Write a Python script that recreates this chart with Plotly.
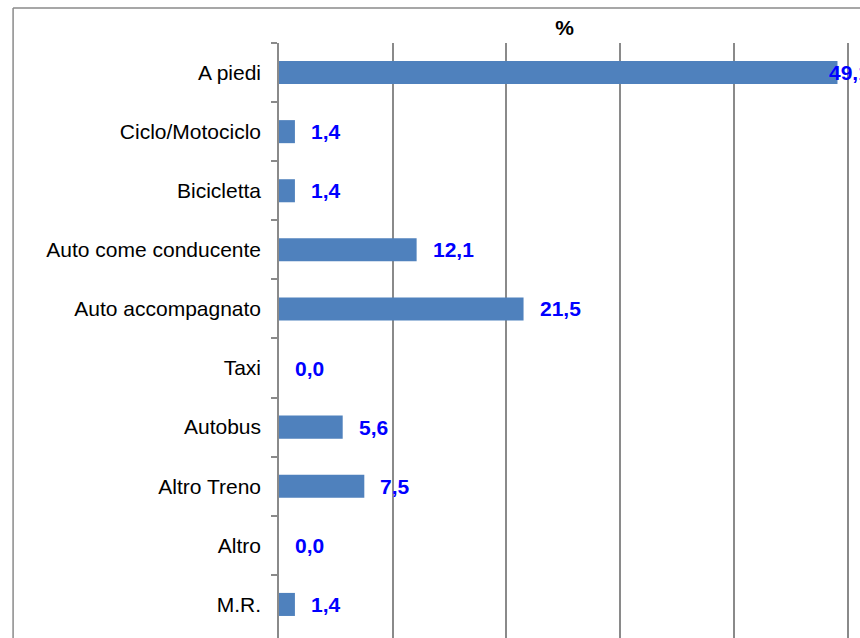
import plotly.graph_objects as go

categories = ["A piedi", "Ciclo/Motociclo", "Bicicletta", "Auto come conducente",
              "Auto accompagnato", "Taxi", "Autobus", "Altro Treno", "Altro", "M.R."]
values = [49.1, 1.4, 1.4, 12.1, 21.5, 0.0, 5.6, 7.5, 0.0, 1.4]
axis_title = "%"

FONT = "Liberation Sans, Arial, sans-serif"
GRID = "#8a8a8a"
BAR = "#4F81BD"

fig = go.Figure()
fig.add_trace(go.Bar(
    x=values, y=categories, orientation="h",
    marker=dict(color=BAR, line=dict(width=0)),
    hoverinfo="skip",
))

# value labels
for cat, v in zip(categories, values):
    txt = f"{v:.1f}".replace(".", ",")
    shift = 14 if v < 45 else -10
    fig.add_annotation(
        x=v, y=cat, xref="x", yref="y", text=f"<b>{txt}</b>",
        showarrow=False, xanchor="left", yanchor="middle", xshift=shift,
        font=dict(family=FONT, size=21, color="#0000FF"),
    )

# outer chart border (cropped in the reference)
fig.add_shape(type="line", xref="paper", yref="paper",
              x0=-0.4657, x1=1.1, y0=1.059, y1=1.059,
              line=dict(color=GRID, width=1.5))
fig.add_shape(type="line", xref="paper", yref="paper",
              x0=-0.4657, x1=-0.4657, y0=1.059, y1=-0.1,
              line=dict(color=GRID, width=1.5))

fig.update_layout(
    width=860, height=638,
    margin=dict(l=279, r=10, t=43, b=0),
    paper_bgcolor="white", plot_bgcolor="white",
    bargap=0.61,
    showlegend=False,
    font=dict(family=FONT, size=21, color="black"),
    xaxis=dict(
        range=[0, 50.2], side="top", dtick=10,
        showgrid=True, gridcolor=GRID, gridwidth=1.5,
        showticklabels=False, ticks="", zeroline=False, showline=False,
        title=dict(text=f"<b>{axis_title}</b>", standoff=0,
                   font=dict(family=FONT, size=21, color="black")),
    ),
    yaxis=dict(
        type="category", categoryorder="array", categoryarray=categories,
        range=[9.568, -0.5],
        showline=True, linecolor=GRID, linewidth=1.5,
        ticks="outside", tickson="boundaries", ticklen=6, tickcolor=GRID, tickwidth=1.5,
        ticklabelstandoff=12,
        showgrid=False, zeroline=False,
        tickfont=dict(family=FONT, size=21, color="black"),
    ),
)

fig.write_html("out.html", config={"displayModeBar": False},
               post_script="document.body.style.margin='0';document.body.style.overflow='hidden';")
